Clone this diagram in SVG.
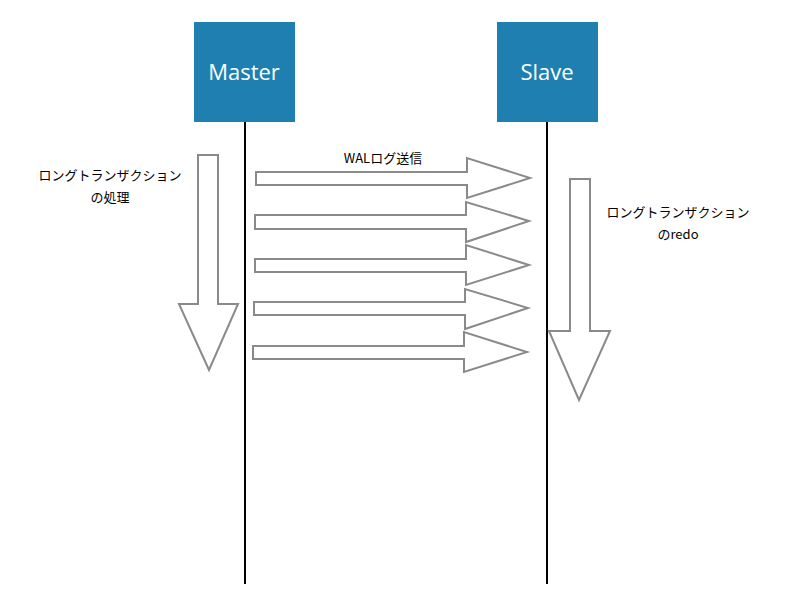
<svg xmlns="http://www.w3.org/2000/svg" width="792" height="607" viewBox="0 0 792 607">
<style>
.box{fill:#1e7fb0}
.bt{font-family:"Open Sans","Liberation Sans",sans-serif;font-size:22px;fill:#fff;text-anchor:middle}
.lb{font-family:"Noto Sans CJK JP",sans-serif;font-size:13px;fill:#000;text-anchor:middle}
.ar{fill:#fff;stroke:#8a8a8a;stroke-width:2}
.ln{stroke:#000;stroke-width:2}
</style>
<rect width="792" height="607" fill="#fff"/>
<g id="connectors">
<line class="ln" x1="245" y1="122" x2="245" y2="584"/>
<line class="ln" x1="547" y1="122" x2="547" y2="584"/>
<path class="ar" d="M198,155 H218 V304 H238 L209,370 L179,304 H198 Z"/>
<path class="ar" d="M570,179 H590 V331 H610 L579,400 L549,331 H570 Z"/>
<path class="ar" d="M256,172 H467 V158 L530,178 L467,198 V185 H256 Z"/>
<path class="ar" d="M255,215 H466 V202 L529,221 L466,242 V229 H255 Z"/>
<path class="ar" d="M255,259 H466 V245 L529,265 L466,285 V272 H255 Z"/>
<path class="ar" d="M254,302 H465 V289 L528,308 L465,329 V315 H254 Z"/>
<path class="ar" d="M253,346 H464 V332 L527,352 L464,372 V359 H253 Z"/>
<text class="lb" x="383" y="163">WALログ送信</text>
</g>
<g id="master"><rect class="box" x="194" y="22" width="101" height="100"/><text class="bt" x="244" y="80">Master</text></g>
<g id="slave"><rect class="box" x="497" y="22" width="101" height="100"/><text class="bt" x="547" y="80">Slave</text></g>
<g id="label-master"><text class="lb" x="110" y="180">ロングトランザクション</text><text class="lb" x="110" y="202">の処理</text></g>
<g id="label-slave"><text class="lb" x="678" y="217">ロングトランザクション</text><text class="lb" x="678" y="239">のredo</text></g>
</svg>
